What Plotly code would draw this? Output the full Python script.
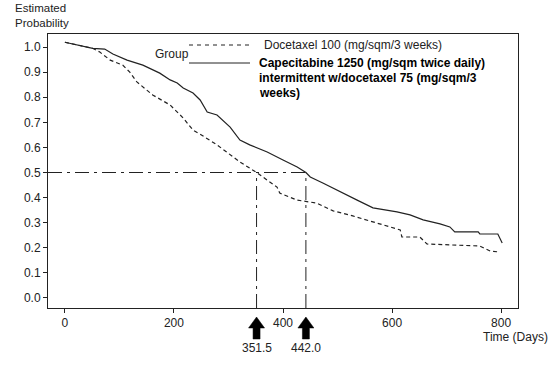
import plotly.graph_objects as go

# ---- data ----
cape_days = [0, 51, 73, 88, 114, 143, 174, 193, 206, 217, 235, 248, 261, 279, 303, 321, 339, 371, 400, 426,
             442, 450, 473, 505, 536, 565, 609, 633, 657, 688, 706, 715, 758, 761, 794, 802]
cape_prob = [1.019, 0.995, 0.992, 0.972, 0.948, 0.928, 0.896, 0.869, 0.857, 0.837, 0.817, 0.789, 0.741, 0.729,
             0.681, 0.629, 0.610, 0.582, 0.550, 0.522, 0.500, 0.482, 0.458, 0.422, 0.390, 0.359, 0.343, 0.331,
             0.311, 0.295, 0.283, 0.263, 0.263, 0.255, 0.255, 0.219]

doce_days = [0, 51, 64, 83, 106, 119, 132, 161, 193, 217, 235, 248, 279, 297, 321, 351.5, 389, 394, 426, 462,
             492, 528, 578, 615, 618, 651, 664, 761, 780, 798]
doce_prob = [1.019, 0.995, 0.980, 0.948, 0.928, 0.900, 0.861, 0.809, 0.769, 0.717, 0.669, 0.653, 0.610, 0.582,
             0.542, 0.500, 0.442, 0.418, 0.390, 0.378, 0.347, 0.327, 0.295, 0.271, 0.243, 0.243, 0.215, 0.207,
             0.187, 0.183]

medians = [351.5, 442.0]
median_labels = ["351.5", "442.0"]
median_level = 0.5

x_ticks = [0, 200, 400, 600, 800]
y_ticks = [0.0, 0.1, 0.2, 0.3, 0.4, 0.5, 0.6, 0.7, 0.8, 0.9, 1.0]

x_range = [-31, 831]
y_range = [-0.04, 1.052]

legend_group = "Group"
legend_doce = "Docetaxel 100 (mg/sqm/3 weeks)"
legend_cape = ["Capecitabine 1250 (mg/sqm twice daily)",
               "intermittent w/docetaxel 75 (mg/sqm/3",
               "weeks)"]

# ---- styling ----
FONT = "Liberation Sans, Arial, sans-serif"
INK = "#222222"
W, H = 556, 368
ML, MR, MT, MB = 48, 38, 34, 60
PW = W - ML - MR
PH = H - MT - MB


def px_to_paper_y(py):
    return (H - MB - py) / PH


def px_to_paper_x(px):
    return (px - ML) / PW


x_per_px = (x_range[1] - x_range[0]) / PW

fig = go.Figure()

# reference lines at median
fig.add_trace(go.Scatter(
    x=[x_range[0], max(medians)], y=[median_level, median_level], mode="lines",
    line=dict(color=INK, width=1, dash="14px,5px,3px,5px"), hoverinfo="skip", showlegend=False))
for m in medians:
    fig.add_trace(go.Scatter(
        x=[m, m], y=[y_range[0], median_level], mode="lines",
        line=dict(color=INK, width=1, dash="14px,5px,3px,5px"), hoverinfo="skip", showlegend=False))

# survival curves
fig.add_trace(go.Scatter(x=doce_days, y=doce_prob, mode="lines",
                         line=dict(color=INK, width=1.2, dash="4px,3px"), showlegend=False))
fig.add_trace(go.Scatter(x=cape_days, y=cape_prob, mode="lines",
                         line=dict(color=INK, width=1.2), showlegend=False))

shapes = []
annotations = []

# arrows under the axis pointing at medians
tip, head_base, tail = px_to_paper_y(317), px_to_paper_y(328), px_to_paper_y(339)
hw, sw = 8 * x_per_px, 3.5 * x_per_px
for m, lab in zip(medians, median_labels):
    path = (f"M {m} {tip} L {m - hw} {head_base} L {m - sw} {head_base} L {m - sw} {tail} "
            f"L {m + sw} {tail} L {m + sw} {head_base} L {m + hw} {head_base} Z")
    shapes.append(dict(type="path", xref="x", yref="paper", path=path,
                       fillcolor="black", line=dict(color="black", width=0.5)))
    annotations.append(dict(x=m, y=px_to_paper_y(348), xref="x", yref="paper",
                            text=lab, showarrow=False, xanchor="center", yanchor="middle",
                            font=dict(family=FONT, size=12, color=INK)))

# y axis title at top left
annotations.append(dict(x=px_to_paper_x(13), y=px_to_paper_y(16), xref="paper", yref="paper",
                        text="Estimated<br>Probability", showarrow=False, xanchor="left",
                        yanchor="middle", align="left",
                        font=dict(family=FONT, size=11.5, color=INK)))
# x axis title
annotations.append(dict(x=px_to_paper_x(515), y=px_to_paper_y(337), xref="paper", yref="paper",
                        text="Time (Days)", showarrow=False, xanchor="center", yanchor="middle",
                        font=dict(family=FONT, size=12, color=INK)))

# legend
lx0, lx1 = px_to_paper_x(189), px_to_paper_x(250)
shapes.append(dict(type="line", xref="paper", yref="paper", x0=lx0, x1=lx1,
                   y0=px_to_paper_y(45), y1=px_to_paper_y(45),
                   line=dict(color=INK, width=1, dash="4px,4px")))
shapes.append(dict(type="line", xref="paper", yref="paper", x0=lx0, x1=lx1,
                   y0=px_to_paper_y(63), y1=px_to_paper_y(63),
                   line=dict(color=INK, width=1)))
annotations.append(dict(x=px_to_paper_x(172), y=px_to_paper_y(54), xref="paper", yref="paper",
                        text=legend_group, showarrow=False, xanchor="center", yanchor="middle",
                        font=dict(family=FONT, size=12, color=INK)))
annotations.append(dict(x=px_to_paper_x(262), y=px_to_paper_y(45), xref="paper", yref="paper",
                        text=legend_doce, showarrow=False, xanchor="left", yanchor="middle",
                        font=dict(family=FONT, size=12, color=INK)))
for i, line in enumerate(legend_cape):
    annotations.append(dict(x=px_to_paper_x(257), y=px_to_paper_y(63 + 15 * i), xref="paper",
                            yref="paper", text=f"<b>{line}</b>", showarrow=False, xanchor="left",
                            yanchor="middle", font=dict(family=FONT, size=12, color="black")))

axis_common = dict(showline=True, linecolor=INK, linewidth=1, mirror=True, showgrid=False,
                   zeroline=False, ticks="outside", ticklen=4, tickwidth=1, tickcolor=INK,
                   tickfont=dict(family=FONT, size=12, color=INK))

fig.update_layout(
    width=W, height=H, margin=dict(l=ML, r=MR, t=MT, b=MB),
    paper_bgcolor="white", plot_bgcolor="white",
    xaxis=dict(range=x_range, tickvals=x_ticks, ticktext=[str(v) for v in x_ticks], **axis_common),
    yaxis=dict(range=y_range, tickvals=y_ticks, ticktext=[f"{v:.1f}" for v in y_ticks], **axis_common),
    shapes=shapes, annotations=annotations, showlegend=False,
)

fig.write_html("out.html", config={"displayModeBar": False},
               post_script="document.body.style.margin='0';document.body.style.overflow='hidden';")
